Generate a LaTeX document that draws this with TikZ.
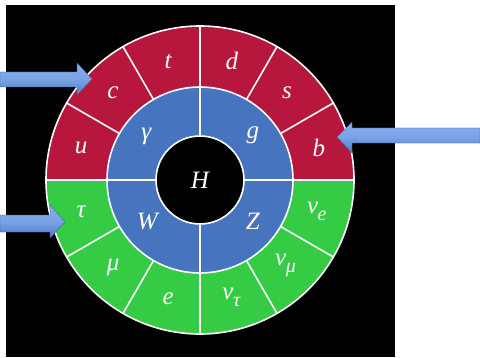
\documentclass[tikz,border=0pt]{standalone}
\usepackage{fontspec}
\setmainfont{Liberation Serif}
\usetikzlibrary{calc}
\definecolor{qred}{HTML}{B8173D}
\definecolor{lgreen}{HTML}{35CB45}
\definecolor{bblue}{HTML}{4774BF}
\definecolor{arrtop}{HTML}{86ACEB}
\definecolor{arrbot}{HTML}{4C7CCB}
\tikzset{
  lbl/.style={text=white, inner sep=0pt, font=\fontsize{25}{25}\selectfont\itshape},
  sep/.style={white, line width=1.6pt},
  blockarrow/.style={top color=arrtop, bottom color=arrbot, middle color=arrtop!80!arrbot, draw=arrbot!80!black, line width=0.3pt}
}
\newcommand{\subsc}[2]{#1\kern-0.5pt\raisebox{-0.28em}{\fontsize{20}{20}\selectfont #2}}
\begin{document}
\begin{tikzpicture}[x=1pt,y=1pt]
\useasboundingbox (0,0) rectangle (480,357);
\fill[white] (0,0) rectangle (480,357);
\fill[black] (6,0) rectangle (395,352);
\coordinate (O) at (200,177);
% sectors
\fill[qred] (O) ++(0:154) arc[start angle=0, end angle=180, radius=154] -- cycle;
\fill[lgreen] (O) ++(180:154) arc[start angle=180, end angle=360, radius=154] -- cycle;
\fill[bblue] (O) circle[radius=93];
\fill[black] (O) circle[radius=44];
% separators
\foreach \a in {0,30,...,330} \draw[sep] ($(O)+(\a:93)$) -- ($(O)+(\a:154)$);
\foreach \a in {0,90,180,270} \draw[sep] ($(O)+(\a:44)$) -- ($(O)+(\a:93)$);
\draw[sep] (O) circle[radius=154];
\draw[sep] (O) circle[radius=93];
\draw[sep] (O) circle[radius=44];
% labels
\node[lbl] (H) at (O) {H};
\node[lbl] (gam) at ($(O)+(141:69)$) {γ};
\node[lbl] (glu) at ($(O)+(40:69)$) {g};
\node[lbl] (W) at ($(O)+(218:67)$) {W};
\node[lbl] (Z) at ($(O)+(322:67)$) {Z};
\node[lbl] (u) at ($(O)+(165:123)$) {u};
\node[lbl] (c) at ($(O)+(135:123)$) {c};
\node[lbl] (t) at ($(O)+(105:123)$) {t};
\node[lbl] (d) at ($(O)+(75:123)$) {d};
\node[lbl] (s) at ($(O)+(45:123)$) {s};
\node[lbl] (b) at ($(O)+(15:123)$) {b};
\node[lbl] (tau) at ($(O)+(195:123)$) {τ};
\node[lbl] (mu) at ($(O)+(225:123)$) {μ};
\node[lbl] (e) at ($(O)+(255:123)$) {e};
\node[lbl] (nut) at ($(O)+(285:121)$) {\subsc{ν}{τ}};
\node[lbl] (num) at ($(O)+(315:121)$) {\subsc{ν}{μ}};
\node[lbl] (nue) at ($(O)+(345:121)$) {\subsc{ν}{e}};
% block arrows
\path[blockarrow] (0,270) -- (77,270) -- (77,262) -- (92,278) -- (77,294) -- (77,285) -- (0,285) -- cycle;
\path[blockarrow] (480,214) -- (352,214) -- (352,204) -- (337,220) -- (352,235) -- (352,229) -- (480,229) -- cycle;
\path[blockarrow] (0,125) -- (50,125) -- (50,119) -- (65,135) -- (50,152) -- (50,142) -- (0,142) -- cycle;
\end{tikzpicture}
\end{document}
